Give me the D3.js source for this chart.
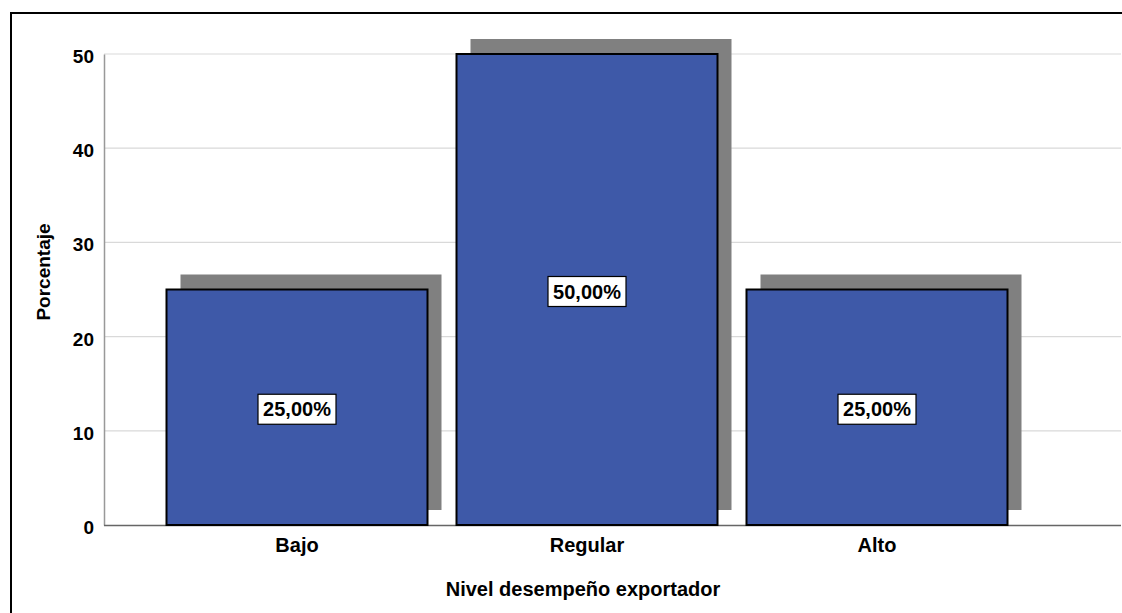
<!DOCTYPE html>
<html>
<head>
<meta charset="utf-8">
<script src="https://cdn.jsdelivr.net/npm/d3@7"></script>
<style>
  body { margin: 0; background: #fff; }
  text { font-family: "Liberation Sans", Arial, sans-serif; }
</style>
</head>
<body>
<svg id="chart" width="1122" height="613"></svg>
<script>
const categories = ['Bajo', 'Regular', 'Alto'];
const percentages = [25, 50, 25];
const barLabels = ['25,00%', '50,00%', '25,00%'];
const yTicks = [0, 10, 20, 30, 40, 50];

const svg = d3.select('#chart');
const fontFamily = '"Liberation Sans", Arial, sans-serif';

// frame
svg.append('path')
  .attr('d', 'M11,613 V13 H1122')
  .attr('fill', 'none')
  .attr('stroke', '#000')
  .attr('stroke-width', 2);

/*********** scales ***********/
const xScale = d3.scaleBand()
  .domain(categories)
  .range([152, 1022])
  .paddingInner(0.1)
  .paddingOuter(0.05);

const yScale = d3.scaleLinear()
  .domain([0, 50])
  .range([525, 54]);

const plotLeft = 104, plotRight = 1121;

// grid lines
svg.append('g')
  .selectAll('line')
  .data(yTicks.filter(d => d > 0))
  .join('line')
  .attr('x1', plotLeft)
  .attr('x2', plotRight)
  .attr('y1', d => yScale(d))
  .attr('y2', d => yScale(d))
  .attr('stroke', '#d9d9d9')
  .attr('stroke-width', 1.2);

// y axis
const yAxis = svg.append('g')
  .attr('transform', `translate(${plotLeft},0)`)
  .call(d3.axisLeft(yScale).tickValues(yTicks).tickSize(0).tickPadding(10));
yAxis.select('.domain').attr('stroke', '#999').attr('stroke-width', 1.5);
yAxis.selectAll('text')
  .attr('font-size', 19)
  .attr('font-weight', 'bold')
  .attr('dy', '0.45em')
  .attr('fill', '#000')
  .style('font-family', fontFamily);

// x axis
const xAxis = svg.append('g')
  .attr('transform', `translate(0,${yScale(0)})`)
  .call(d3.axisBottom(xScale).tickSize(0).tickPadding(13));
xAxis.select('.domain')
  .attr('d', `M${plotLeft},0.5H${plotRight}`)
  .attr('stroke', '#666')
  .attr('stroke-width', 1.5);
xAxis.selectAll('text')
  .attr('font-size', 20)
  .attr('font-weight', 'bold')
  .attr('fill', '#000')
  .style('font-family', fontFamily);

/*********** bars ***********/
const shadowDx = 14, shadowDy = -13;
const bars = svg.append('g');

bars.selectAll('rect.shadow')
  .data(percentages)
  .join('rect')
  .attr('class', 'shadow')
  .attr('x', (d, i) => xScale(categories[i]) + shadowDx)
  .attr('y', d => yScale(d) + shadowDy - 2)
  .attr('width', xScale.bandwidth())
  .attr('height', d => yScale(0) - yScale(d))
  .attr('fill', '#808080');

bars.selectAll('rect.bar')
  .data(percentages)
  .join('rect')
  .attr('class', 'bar')
  .attr('x', (d, i) => xScale(categories[i]))
  .attr('y', d => yScale(d))
  .attr('width', xScale.bandwidth())
  .attr('height', d => yScale(0) - yScale(d))
  .attr('fill', '#3e59a8')
  .attr('stroke', '#000')
  .attr('stroke-width', 2);

/*********** value labels ***********/
const labels = svg.append('g')
  .selectAll('g')
  .data(percentages)
  .join('g')
  .attr('transform', (d, i) =>
    `translate(${xScale(categories[i]) + xScale.bandwidth() / 2},${(yScale(d) + yScale(0)) / 2 + 2})`);

labels.append('rect')
  .attr('x', -39)
  .attr('y', -15)
  .attr('width', 78)
  .attr('height', 30)
  .attr('fill', '#fff')
  .attr('stroke', '#000')
  .attr('stroke-width', 1.2);

labels.append('text')
  .attr('text-anchor', 'middle')
  .attr('dy', '0.36em')
  .attr('font-size', 20)
  .attr('font-weight', 'bold')
  .attr('fill', '#000')
  .text((d, i) => barLabels[i]);

/*********** axis titles ***********/
svg.append('text')
  .attr('transform', 'rotate(-90)')
  .attr('x', -272)
  .attr('y', 50)
  .attr('text-anchor', 'middle')
  .attr('font-size', 19)
  .attr('font-weight', 'bold')
  .text('Porcentaje');

svg.append('text')
  .attr('x', 583)
  .attr('y', 596)
  .attr('text-anchor', 'middle')
  .attr('font-size', 20)
  .attr('font-weight', 'bold')
  .text('Nivel desempeño exportador');
</script>
</body>
</html>
